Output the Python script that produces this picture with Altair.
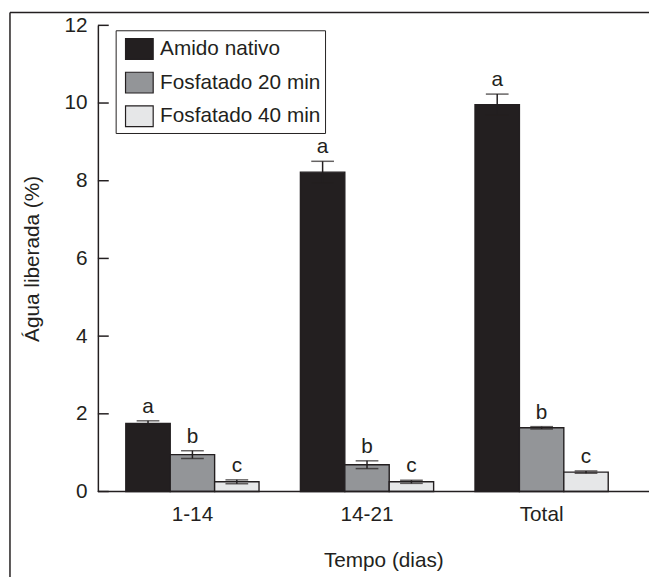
import altair as alt
import pandas as pd

categories = ["1-14", "14-21", "Total"]
series = ["Amido nativo", "Fosfatado 20 min", "Fosfatado 40 min"]
amido_mean = [1.75, 8.22, 9.96]
amido_err = [0.07, 0.28, 0.27]
f20_mean = [0.95, 0.69, 1.64]
f20_err = [0.10, 0.10, 0.03]
f40_mean = [0.25, 0.25, 0.50]
f40_err = [0.05, 0.04, 0.03]
amido_letters = ["a", "a", "a"]
f20_letters = ["b", "b", "b"]
f40_letters = ["c", "c", "c"]
y_ticks = [0, 2, 4, 6, 8, 10, 12]
colors = ["#231f20", "#939598", "#e6e7e8"]

INK = "#231f20"
FONT = "Liberation Sans"
FS = 21

rows = []
for s, means, errs, lets in [
    (series[0], amido_mean, amido_err, amido_letters),
    (series[1], f20_mean, f20_err, f20_letters),
    (series[2], f40_mean, f40_err, f40_letters),
]:
    for c, m, e, l in zip(categories, means, errs, lets):
        rows.append({"cat": c, "series": s, "mean": m, "lo": m - e, "hi": m + e, "letter": l})
df = pd.DataFrame(rows)

x_enc = alt.X(
    "cat:N",
    sort=categories,
    scale=alt.Scale(paddingInner=0.237, paddingOuter=0.16),
    axis=alt.Axis(
        title="Tempo (dias)",
        domain=False,
        ticks=False,
        labelAngle=0,
        labelPadding=12,
        labelFontSize=FS,
        labelFont=FONT,
        labelColor=INK,
        titleFontSize=FS,
        titleFont=FONT,
        titleFontWeight="normal",
        titleColor=INK,
        titleX=289,
        titleY=76,
        titleBaseline="alphabetic",
    ),
)
xo_enc = alt.XOffset("series:N", sort=series, scale=alt.Scale(paddingInner=0, paddingOuter=0))
y_scale = alt.Scale(domain=[0, 12], nice=False, zero=True)

base = alt.Chart(df).encode(x=x_enc, xOffset=xo_enc)

bars = base.mark_bar(stroke=INK, strokeWidth=1.4).encode(
    y=alt.Y(
        "mean:Q",
        scale=y_scale,
        axis=alt.Axis(
            title="Água liberada (%)",
            values=y_ticks,
            grid=False,
            ticks=False,
            domainColor=INK,
            domainWidth=1.5,
            labelPadding=11,
            labelFontSize=FS,
            labelFont=FONT,
            labelColor=INK,
            titleFontSize=FS,
            titleFont=FONT,
            titleFontWeight="normal",
            titleColor=INK,
            titleX=-66,
            titleY=236,
            titleAngle=270,
            titleAlign="center",
            titleBaseline="middle",
        ),
    ),
    color=alt.Color(
        "series:N",
        sort=series,
        scale=alt.Scale(domain=series, range=colors),
        legend=alt.Legend(
            title=None,
            orient="none",
            legendX=18,
            legendY=5,
            strokeColor=INK,
            fillColor="white",
            padding=4,
            symbolType="M-1,-0.75H1V0.75H-1Z",
            symbolSize=784,
            symbolStrokeColor=INK,
            symbolStrokeWidth=1.2,
            symbolOpacity=1,
            symbolOffset=5,
            labelOffset=6,
            labelFontSize=FS,
            labelFont=FONT,
            labelColor=INK,
            labelLimit=400,
            rowPadding=6,
        ),
    ),
)

err_rule = base.mark_rule(color=INK, strokeWidth=1.5).encode(y="lo:Q", y2="hi:Q")
cap_hi = base.mark_tick(color=INK, thickness=1.5, size=23).encode(y="hi:Q")
cap_lo = base.mark_tick(color=INK, thickness=1.5, size=23).encode(y="lo:Q")
letters = base.mark_text(dy=-4, baseline="bottom", fontSize=FS, font=FONT, color=INK).encode(
    y="hi:Q", text="letter:N"
)

tick_df = pd.DataFrame({"v": y_ticks})
yticks = alt.Chart(tick_df).mark_rule(color=INK, strokeWidth=1.5).encode(
    y="v:Q", x=alt.value(0), x2=alt.value(11)
)
zero_df = pd.DataFrame({"v": [0]})
baseline = alt.Chart(zero_df).mark_rule(color=INK, strokeWidth=1.5).encode(
    y="v:Q", x=alt.value(0), x2=alt.value(570)
)
frame_left = alt.Chart(zero_df).mark_rule(color=INK, strokeWidth=1.5).encode(
    x=alt.value(-89), y=alt.value(-13), y2=alt.value(570)
)
frame_top = alt.Chart(zero_df).mark_rule(color=INK, strokeWidth=1.5).encode(
    x=alt.value(-89), x2=alt.value(570), y=alt.value(-13)
)

chart = (
    alt.layer(bars, err_rule, cap_hi, cap_lo, letters, yticks, baseline, frame_left, frame_top)
    .properties(
        width=545,
        height=472,
        autosize=alt.AutoSizeParams(type="none"),
        padding={"left": 91, "top": 14, "right": 13, "bottom": 83},
    )
    .configure_view(stroke=None)
)

chart.save("out.html", embed_options={"renderer": "svg", "actions": False})
